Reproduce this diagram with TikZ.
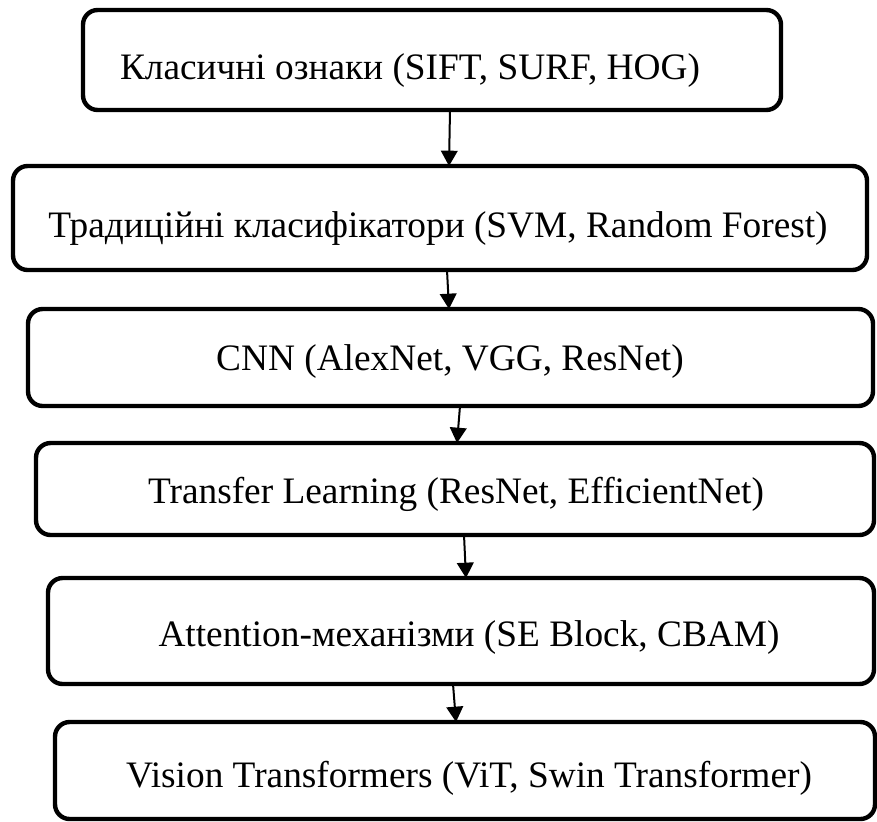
\documentclass[tikz,border=0pt]{standalone}
\usepackage{fontspec}
\setmainfont{Liberation Serif}
\usetikzlibrary{arrows.meta}
\begin{document}
\begin{tikzpicture}[x=0.75pt,y=-0.75pt,
  box/.style={draw=black, line width=3.3pt, rounded corners=11pt, inner sep=0pt, outer sep=0pt},
  lbl/.style={anchor=base, inner sep=0pt, font=\fontsize{28}{31}\selectfont},
  arr/.style={line width=1.5pt, -{Triangle[width=12.5pt,length=11.5pt]}}]
\useasboundingbox (0,0) rectangle (877,821);
\node[box, minimum width=523.5pt, minimum height=75pt] (b1) at (432,60) {};
\node[box, minimum width=640.5pt, minimum height=78pt] (b2) at (440,218) {};
\node[box, minimum width=633.75pt, minimum height=72.75pt] (b3) at (450.5,357.5) {};
\node[box, minimum width=628.5pt, minimum height=69pt] (b4) at (455,489) {};
\node[box, minimum width=619.5pt, minimum height=79.5pt] (b5) at (461,631) {};
\node[box, minimum width=615pt, minimum height=72.75pt] (b6) at (465,770.5) {};
\node[lbl] (t1) at (410,79) {Класичні ознаки (SIFT, SURF, HOG)};
\node[lbl] (t2) at (438,237) {Традиційні класифікатори (SVM, Random Forest)};
\node[lbl] (t3) at (450,370) {CNN (AlexNet, VGG, ResNet)};
\node[lbl] (t4) at (456,503) {Transfer Learning (ResNet, EfficientNet)};
\node[lbl] (t5) at (469,646) {Attention-механізми (SE Block, CBAM)};
\node[lbl] (t6) at (469,787) {Vision Transformers (ViT, Swin Transformer)};
\coordinate (x1a) at (450,0); \coordinate (x1b) at (449,0);
\coordinate (x2a) at (447,0); \coordinate (x2b) at (449,0);
\coordinate (x3a) at (460,0); \coordinate (x3b) at (457,0);
\coordinate (x4a) at (464,0); \coordinate (x4b) at (466,0);
\coordinate (x5a) at (453,0); \coordinate (x5b) at (456,0);
\draw[arr] (b1.south -| x1a) -- (b2.north -| x1b);
\draw[arr] (b2.south -| x2a) -- (b3.north -| x2b);
\draw[arr] (b3.south -| x3a) -- (b4.north -| x3b);
\draw[arr] (b4.south -| x4a) -- (b5.north -| x4b);
\draw[arr] (b5.south -| x5a) -- (b6.north -| x5b);
\end{tikzpicture}
\end{document}
